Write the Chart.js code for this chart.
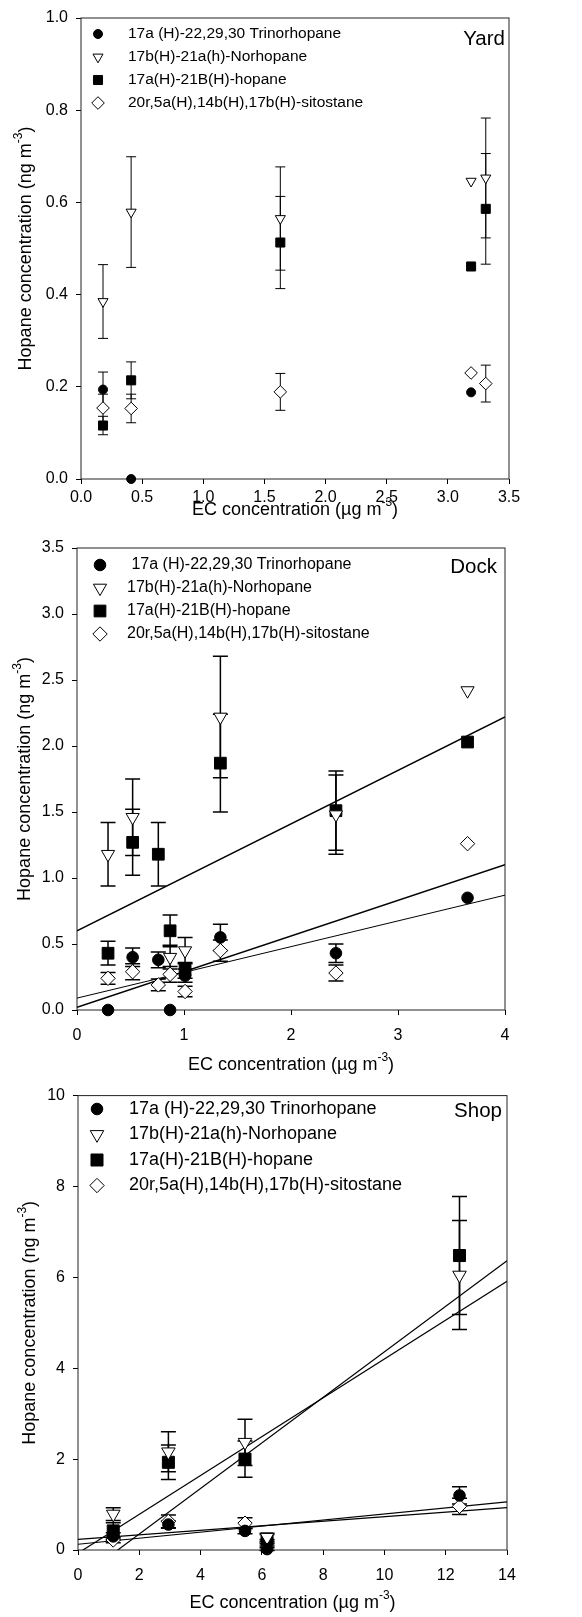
<!DOCTYPE html>
<html>
<head>
<meta charset="utf-8">
<script src="https://cdn.jsdelivr.net/npm/chart.js@4.4.1/dist/chart.umd.min.js"></script>
<style>
  html, body { margin: 0; padding: 0; background: #fff; }
  body { width: 582px; height: 1617px; position: relative; overflow: hidden; }
  canvas { position: absolute; left: 0; }
</style>
</head>
<body>
<canvas id="yard" width="582" height="522" style="top:0px"></canvas>
<canvas id="dock" width="582" height="556" style="top:522px"></canvas>
<canvas id="shop" width="582" height="539" style="top:1078px"></canvas>
<script>
const seriesNames = [
  '17a (H)-22,29,30 Trinorhopane',
  '17b(H)-21a(h)-Norhopane',
  '17a(H)-21B(H)-hopane',
  '20r,5a(H),14b(H),17b(H)-sitostane'
];
const dockNames = [' 17a (H)-22,29,30 Trinorhopane', seriesNames[1], seriesNames[2], seriesNames[3]];

// Yard (EC ug/m3 vs hopane ng/m3, +/- error)
const yardTrinorEC = [0.18, 0.41, 3.19];
const yardTrinor = [0.194, 0.0, 0.188];
const yardTrinorErr = [0.038, 0, 0];
const yardEC = [0.18, 0.41, 1.63, 3.19, 3.31];
const yardNor = [0.385, 0.579, 0.565, 0.646, 0.653];
const yardNorErr = [0.08, 0.12, 0.112, 0, 0.13];
const yardHop = [0.116, 0.214, 0.513, 0.461, 0.586];
const yardHopErr = [0.02, 0.04, 0.1, 0, 0.12];
const yardSit = [0.154, 0.153, 0.189, 0.23, 0.207];
const yardSitErr = [0.03, 0.031, 0.04, 0, 0.04];

// Dock
const dockEC = [0.29, 0.52, 0.76, 0.87, 1.01, 1.34, 2.42, 3.65];
const dockTrinor = [0.0, 0.40, 0.38, 0.0, 0.26, 0.55, 0.43, 0.85];
const dockTrinorErr = [0, 0.07, 0.06, 0, 0.05, 0.10, 0.07, 0];
const dockNor = [1.18, 1.46, null, 0.40, 0.45, 2.22, 1.48, 2.42];
const dockNorErr = [0.24, 0.29, 0, 0.09, 0.10, 0.46, 0.30, 0];
const dockHop = [0.43, 1.27, 1.18, 0.60, 0.30, 1.87, 1.51, 2.03];
const dockHopErr = [0.09, 0.25, 0.24, 0.12, 0.06, 0.37, 0.30, 0];
const dockSit = [0.24, 0.29, 0.19, 0.27, 0.14, 0.45, 0.28, 1.26];
const dockSitErr = [0.045, 0.06, 0.045, 0.06, 0.04, 0.08, 0.06, 0];
const dockFitIntercept = [0.60, 0.02, 0.09];
const dockFitSlope = [0.405, 0.27, 0.195];

// Shop
const shopEC = [1.15, 2.95, 5.45, 6.17, 12.45];
const shopTrinor = [0.30, 0.56, 0.42, 0.02, 1.20];
const shopTrinorErr = [0.08, 0.08, 0.06, 0.03, 0.19];
const shopNor = [0.79, 2.16, 2.37, 0.28, 6.05];
const shopNorErr = [0.14, 0.44, 0.51, 0.09, 1.2];
const shopHop = [0.42, 1.93, 2.0, 0.24, 6.48];
const shopHopErr = [0.18, 0.38, 0.4, 0.1, 1.3];
const shopSit = [0.22, 0.63, 0.59, 0.16, 0.96];
const shopSitErr = [0.06, 0.14, 0.12, 0.07, 0.18];
const shopFitIntercept = [-0.65, -0.07, 0.234, 0.126];
const shopFitSlope = [0.501, 0.4275, 0.05, 0.0667];

const FONT = '"Liberation Sans", Arial, Helvetica, sans-serif';
const markerShape = ['circle', 'triangle', 'rect', 'rectRot'];
const markerTurn = [0, 180, 0, 0];
const markerFill = ['#000', '#fff', '#000', '#fff'];

function pts(xs, ys) {
  return xs.map((x, i) => ({ x: x, y: ys[i] }));
}

function fitLine(b, m, lo, hi) {
  return [{ x: lo, y: b + m * lo }, { x: hi, y: b + m * hi }];
}

// text with a raised "-3"
function supText(ctx, head, sup, tail, size, cx, cy) {
  const big = size + 'px ' + FONT, small = Math.round(size * 0.68) + 'px ' + FONT;
  ctx.font = big;
  const w1 = ctx.measureText(head).width, w3 = ctx.measureText(tail).width;
  ctx.font = small;
  const w2 = ctx.measureText(sup).width;
  let x = cx - (w1 + w2 + w3) / 2;
  ctx.textAlign = 'left';
  ctx.textBaseline = 'middle';
  ctx.font = big;
  ctx.fillText(head, x, cy);
  ctx.font = small;
  ctx.fillText(sup, x + w1, cy - size * 0.4);
  ctx.font = big;
  ctx.fillText(tail, x + w1 + w2, cy);
}

const decor = {
  id: 'decor',
  beforeDatasetsDraw(chart, args, o) {
    const ctx = chart.ctx, xs = chart.scales.x, ys = chart.scales.y, a = chart.chartArea;
    ctx.save();
    ctx.strokeStyle = '#222';
    ctx.lineWidth = 1;
    ctx.strokeRect(a.left, a.top, a.right - a.left, a.bottom - a.top);
    ctx.strokeStyle = '#000';
    ctx.lineWidth = o.errWidth;
    chart.data.datasets.forEach(ds => {
      if (!ds.errors) return;
      ds.data.forEach((p, i) => {
        const e = ds.errors[i];
        if (p.y == null || !e) return;
        const px = xs.getPixelForValue(p.x);
        const top = ys.getPixelForValue(p.y + e), bot = ys.getPixelForValue(p.y - e);
        ctx.beginPath();
        ctx.moveTo(px, top); ctx.lineTo(px, bot);
        ctx.moveTo(px - o.cap / 2, top); ctx.lineTo(px + o.cap / 2, top);
        ctx.moveTo(px - o.cap / 2, bot); ctx.lineTo(px + o.cap / 2, bot);
        ctx.stroke();
      });
    });
    ctx.restore();
  },
  afterDraw(chart, args, o) {
    const ctx = chart.ctx, a = chart.chartArea;
    ctx.save();
    ctx.fillStyle = '#000';
    // axis titles
    supText(ctx, 'EC concentration (\u00b5g m', '-3', ')', 18, (a.left + a.right) / 2, o.xTitleY);
    ctx.save();
    ctx.translate(o.yTitleX, (a.top + a.bottom) / 2);
    ctx.rotate(-Math.PI / 2);
    supText(ctx, 'Hopane concentration (ng m', '-3', ')', 18, 0, 0);
    ctx.restore();
    // panel name
    ctx.font = '20.5px ' + FONT;
    ctx.textAlign = 'right';
    ctx.textBaseline = 'middle';
    ctx.fillText(o.label, o.labelX, o.labelY);
    // legend
    const lg = o.legend;
    let row = 0;
    chart.data.datasets.forEach(ds => {
      if (!ds.inLegend) return;
      const y = lg.y0 + row * lg.dy;
      ctx.fillStyle = ds.pointBackgroundColor;
      ctx.strokeStyle = '#000';
      ctx.lineWidth = 1;
      Chart.helpers.drawPoint(ctx, {
        pointStyle: ds.pointStyle, rotation: ds.pointRotation,
        radius: ds.pointRadius, borderWidth: 1
      }, lg.mx, y);
      ctx.fillStyle = '#000';
      ctx.font = lg.size + 'px ' + FONT;
      ctx.textAlign = 'left';
      ctx.textBaseline = 'middle';
      ctx.fillText(ds.label, lg.tx, y);
      row++;
    });
    ctx.restore();
  }
};

function buildPanel(id, p) {
  const datasets = p.series.map((s, i) => ({
    label: p.names[i],
    inLegend: true,
    data: pts(s.x, s.y),
    errors: s.err,
    showLine: false,
    pointStyle: markerShape[i],
    pointRotation: markerTurn[i],
    pointRadius: p.radius[i],
    pointHoverRadius: p.radius[i],
    pointBackgroundColor: markerFill[i],
    pointBorderColor: '#000',
    pointBorderWidth: 1,
    clip: false
  }));
  p.fitB.forEach((b, i) => {
    datasets.push({
      label: 'fit' + i,
      data: fitLine(b, p.fitM[i], p.x[0], p.x[1]),
      showLine: true,
      borderColor: '#000',
      borderWidth: p.fitWidth[i],
      pointRadius: 0,
      fill: false
    });
  });
  const tickFont = { size: 16, family: FONT };
  return new Chart(document.getElementById(id), {
    type: 'scatter',
    data: { datasets: datasets },
    options: {
      responsive: false,
      animation: false,
      events: [],
      layout: { padding: { left: 0, top: p.top, right: p.padRight, bottom: 0 } },
      plugins: {
        legend: { display: false },
        tooltip: { enabled: false },
        decor: p.decor
      },
      scales: {
        x: {
          type: 'linear', min: p.x[0], max: p.x[1],
          afterFit: s => { s.height = p.xAxisH; },
          ticks: {
            stepSize: p.x[2], color: '#000', font: tickFont, padding: p.xPad,
            maxRotation: 0, autoSkip: false,
            callback: v => Number(v).toFixed(p.x[3])
          },
          grid: { drawOnChartArea: false, drawTicks: true, tickLength: 5, tickColor: '#000', color: '#000' },
          border: { display: false }
        },
        y: {
          type: 'linear', min: p.y[0], max: p.y[1],
          afterFit: s => { s.width = p.yAxisW; },
          ticks: {
            stepSize: p.y[2], color: '#000', font: tickFont, padding: 8,
            autoSkip: false,
            callback: v => Number(v).toFixed(p.y[3])
          },
          grid: { drawOnChartArea: false, drawTicks: true, tickLength: 5, tickColor: '#000', color: '#000' },
          border: { display: false }
        }
      }
    },
    plugins: [decor]
  });
}

buildPanel('yard', {
  names: seriesNames,
  series: [
    { x: yardTrinorEC, y: yardTrinor, err: yardTrinorErr },
    { x: yardEC, y: yardNor, err: yardNorErr },
    { x: yardEC, y: yardHop, err: yardHopErr },
    { x: yardEC, y: yardSit, err: yardSitErr }
  ],
  radius: [4.5, 5.8, 6.4, 6.3],
  fitB: [], fitM: [], fitWidth: [],
  x: [0, 3.5, 0.5, 1], y: [0, 1, 0.2, 1],
  top: 18, padRight: 73, yAxisW: 81, xAxisH: 43, xPad: 4,
  decor: {
    errWidth: 1, cap: 10, xTitleY: 510, yTitleX: 26,
    label: 'Yard', labelX: 505, labelY: 39,
    legend: { mx: 98, tx: 128, y0: 34, dy: 23, size: 15.5 }
  }
});

buildPanel('dock', {
  names: dockNames,
  series: [
    { x: dockEC, y: dockTrinor, err: dockTrinorErr },
    { x: dockEC, y: dockNor, err: dockNorErr },
    { x: dockEC, y: dockHop, err: dockHopErr },
    { x: dockEC, y: dockSit, err: dockSitErr }
  ],
  radius: [5.8, 7.6, 8.3, 7.2],
  fitB: dockFitIntercept, fitM: dockFitSlope, fitWidth: [1.5, 1.5, 1],
  x: [0, 4, 1, 0], y: [0, 3.5, 0.5, 1],
  top: 26, padRight: 77, yAxisW: 77, xAxisH: 68, xPad: 11,
  decor: {
    errWidth: 1.5, cap: 15, xTitleY: 543, yTitleX: 25,
    label: 'Dock', labelX: 497, labelY: 45,
    legend: { mx: 100, tx: 127, y0: 43, dy: 23, size: 16 }
  }
});

buildPanel('shop', {
  names: seriesNames,
  series: [
    { x: shopEC, y: shopTrinor, err: shopTrinorErr },
    { x: shopEC, y: shopNor, err: shopNorErr },
    { x: shopEC, y: shopHop, err: shopHopErr },
    { x: shopEC, y: shopSit, err: shopSitErr }
  ],
  radius: [5.8, 7.8, 8.5, 7.2],
  fitB: shopFitIntercept, fitM: shopFitSlope, fitWidth: [1.2, 1.2, 1.2, 1.2],
  x: [0, 14, 2, 0], y: [0, 10, 2, 0],
  top: 10, padRight: 75, yAxisW: 78, xAxisH: 67, xPad: 11,
  decor: {
    errWidth: 1.5, cap: 15, xTitleY: 525, yTitleX: 30,
    label: 'Shop', labelX: 502, labelY: 33,
    legend: { mx: 97, tx: 129, y0: 31, dy: 25.5, size: 18 }
  }
});
</script>
</body>
</html>
